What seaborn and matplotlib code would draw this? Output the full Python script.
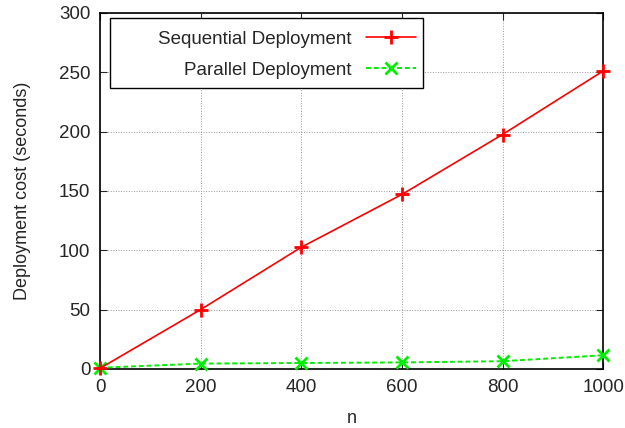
import numpy as np
import pandas as pd
import matplotlib
matplotlib.use("Agg")
import matplotlib.pyplot as plt
import matplotlib.patches as mpatches
import seaborn as sns

# data
n_values = [0, 200, 400, 600, 800, 1000]
sequential_cost = [0.5, 50, 102.5, 147, 197.5, 251]
parallel_cost = [1, 4.5, 5, 5.5, 6.5, 11.5]

x_ticks = [0, 200, 400, 600, 800, 1000]
y_ticks = [0, 50, 100, 150, 200, 250, 300]

sns.set_style("ticks")
plt.rcParams['font.family'] = ['Liberation Sans', 'DejaVu Sans']

df = pd.DataFrame({
    "n": n_values * 2,
    "cost": sequential_cost + parallel_cost,
    "series": ["Sequential Deployment"] * len(n_values) + ["Parallel Deployment"] * len(n_values),
})

fig = plt.figure(figsize=(6.25, 4.28), dpi=100)
ax = fig.add_axes([0.16, 0.138, 0.805, 0.832])

sns.lineplot(data=df[df.series == "Sequential Deployment"], x="n", y="cost", ax=ax,
             color="#ff0000", marker="+", markersize=10, markeredgewidth=2,
             markeredgecolor="#ff0000", linewidth=1.2, label="Sequential Deployment",
             clip_on=False, zorder=5)
sns.lineplot(data=df[df.series == "Parallel Deployment"], x="n", y="cost", ax=ax,
             color="#00ee00", marker="x", markersize=9, markeredgewidth=2,
             markeredgecolor="#00ee00", linewidth=1.4, linestyle=(0, (2.5, 1.5)),
             label="Parallel Deployment", clip_on=False, zorder=4)

ax.set_xlim(0, 1000)
ax.set_ylim(0, 300)
ax.set_xticks(x_ticks)
ax.set_yticks(y_ticks)
ax.set_xlabel("n", fontsize=13)
ax.set_ylabel("Deployment cost (seconds)", fontsize=13, labelpad=20)
ax.tick_params(direction="in", top=True, right=True, labelsize=13.5, length=5, pad=7)
ax.xaxis.labelpad = 10
ax.grid(True, color="#999999", linestyle=":", linewidth=0.7)
for s in ax.spines.values():
    s.set_linewidth(1.2)
    s.set_color("black")

# gnuplot-style key: white box, text right-aligned left of the sample
key_box = mpatches.Rectangle((0.02, 0.789), 0.622, 0.197, transform=ax.transAxes,
                             facecolor="white", edgecolor="black", linewidth=1.0, zorder=6)
ax.add_patch(key_box)

leg = ax.legend(loc="upper right", markerfirst=False, fontsize=13.5, frameon=False,
                handlelength=2.67, handletextpad=0.75, labelspacing=0.75,
                bbox_to_anchor=(0.628, 0.95), borderpad=0.0, borderaxespad=0.0)
leg.set_zorder(7)
leg._legend_box.align = "right"
for t in leg.get_texts():
    t.set_ha("right")

fig.savefig("out.png", dpi=100)
